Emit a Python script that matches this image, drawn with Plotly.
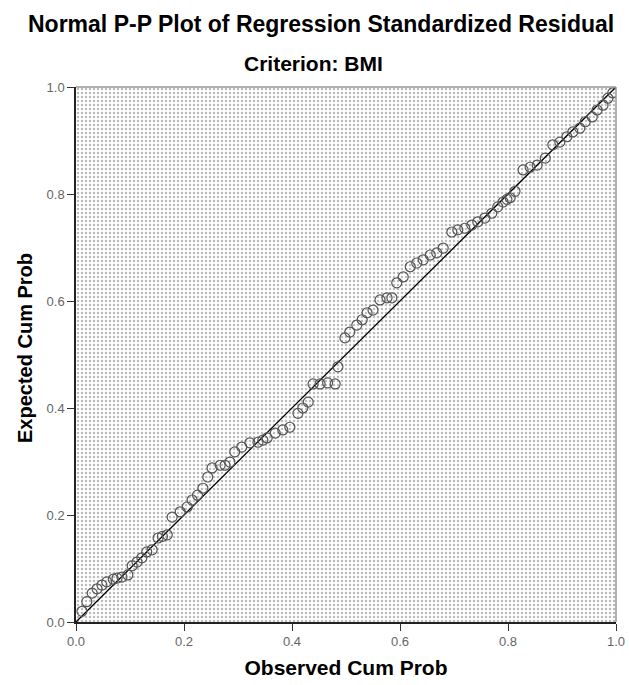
import plotly.graph_objects as go

# Observed cumulative probability (x) and expected cumulative probability (y)
observed = [0.011, 0.020, 0.030, 0.039, 0.048, 0.057, 0.069, 0.076, 0.085, 0.096,
            0.104, 0.113, 0.122, 0.131, 0.141, 0.152, 0.160, 0.169, 0.178, 0.193,
            0.206, 0.215, 0.225, 0.235, 0.244, 0.252, 0.267, 0.276, 0.285, 0.294,
            0.307, 0.322, 0.337, 0.346, 0.354, 0.369, 0.383, 0.396, 0.411, 0.420,
            0.430, 0.439, 0.452, 0.466, 0.480, 0.485, 0.498, 0.507, 0.520, 0.530,
            0.539, 0.550, 0.563, 0.576, 0.585, 0.594, 0.606, 0.619, 0.631, 0.643,
            0.656, 0.668, 0.680, 0.696, 0.707, 0.720, 0.733, 0.744, 0.757, 0.770,
            0.781, 0.791, 0.798, 0.804, 0.813, 0.828, 0.841, 0.854, 0.869, 0.883,
            0.896, 0.909, 0.920, 0.933, 0.943, 0.956, 0.965, 0.976, 0.985, 0.994]
expected = [0.020, 0.038, 0.054, 0.062, 0.069, 0.075, 0.080, 0.082, 0.084, 0.088,
            0.105, 0.112, 0.120, 0.131, 0.135, 0.157, 0.160, 0.163, 0.196, 0.206,
            0.215, 0.228, 0.237, 0.250, 0.271, 0.288, 0.293, 0.293, 0.299, 0.318,
            0.327, 0.335, 0.336, 0.340, 0.344, 0.353, 0.359, 0.364, 0.390, 0.400,
            0.411, 0.445, 0.445, 0.447, 0.445, 0.477, 0.531, 0.542, 0.555, 0.565,
            0.578, 0.583, 0.602, 0.606, 0.606, 0.634, 0.645, 0.664, 0.671, 0.677,
            0.686, 0.690, 0.699, 0.729, 0.733, 0.736, 0.742, 0.748, 0.755, 0.764,
            0.776, 0.785, 0.790, 0.793, 0.805, 0.845, 0.850, 0.854, 0.867, 0.892,
            0.897, 0.907, 0.916, 0.923, 0.935, 0.944, 0.957, 0.966, 0.979, 0.989]

ref_x = [0.0, 1.0]
ref_y = [0.0, 1.0]
tick_vals = [0.0, 0.2, 0.4, 0.6, 0.8, 1.0]
tick_text = ["0.0", "0.2", "0.4", "0.6", "0.8", "1.0"]

FONT = "Liberation Sans, Arial, sans-serif"

fig = go.Figure()

# dotted background of the plotting area
fig.add_trace(go.Scatter(
    x=[0, 1, 1, 0, 0], y=[0, 0, 1, 1, 0],
    mode="lines", fill="toself", line=dict(width=0),
    fillcolor="white",
    fillpattern=dict(shape=".", fgcolor="#777777", bgcolor="white", size=4, solidity=0.3),
    hoverinfo="skip", showlegend=False,
))

fig.add_trace(go.Scatter(
    x=ref_x, y=ref_y, mode="lines",
    line=dict(color="black", width=1.3),
    hoverinfo="skip", showlegend=False,
))

fig.add_trace(go.Scatter(
    x=observed, y=expected, mode="markers",
    marker=dict(symbol="circle-open", size=10, color="#555555", line=dict(width=1.2)),
    showlegend=False,
))

axis_common = dict(
    range=[0, 1], tickvals=tick_vals, ticktext=tick_text,
    ticks="outside", ticklen=7, tickwidth=1, tickcolor="#333333",
    showgrid=False, zeroline=False, showline=True, linecolor="#222222", linewidth=1.5,
    tickfont=dict(family=FONT, size=13, color="#666666"),
    automargin=False,
)

fig.update_xaxes(**axis_common,
                 title=dict(text="<b>Observed Cum Prob</b>", font=dict(family=FONT, size=21, color="black"),
                            standoff=12))
fig.update_yaxes(**axis_common)

# light top/right frame
fig.add_shape(type="line", xref="x domain", yref="y domain", x0=0, x1=1, y0=1, y1=1,
              line=dict(color="#999999", width=1.5))
fig.add_shape(type="line", xref="x domain", yref="y domain", x0=1, x1=1, y0=0, y1=1,
              line=dict(color="#999999", width=1.5))

fig.add_annotation(text="<b>Expected Cum Prob</b>", textangle=-90,
                   xref="paper", yref="paper", x=(25 - 76) / 540, y=(622 - 348) / 535,
                   showarrow=False, font=dict(family=FONT, size=20, color="black"),
                   xanchor="center", yanchor="middle")
fig.add_annotation(text="<b>Normal P-P Plot of Regression Standardized Residual</b>",
                   xref="paper", yref="paper", x=(321 - 76) / 540, y=(622 - 24) / 535,
                   showarrow=False, font=dict(family=FONT, size=23, color="black"),
                   xanchor="center", yanchor="middle")
fig.add_annotation(text="<b>Criterion: BMI</b>",
                   xref="paper", yref="paper", x=(313 - 76) / 540, y=(622 - 64) / 535,
                   showarrow=False, font=dict(family=FONT, size=21, color="black"),
                   xanchor="center", yanchor="middle")

fig.update_layout(
    width=629, height=685,
    margin=dict(l=76, r=13, t=87, b=63),
    paper_bgcolor="white", plot_bgcolor="white",
    showlegend=False,
)

fig.write_html("out.html")
